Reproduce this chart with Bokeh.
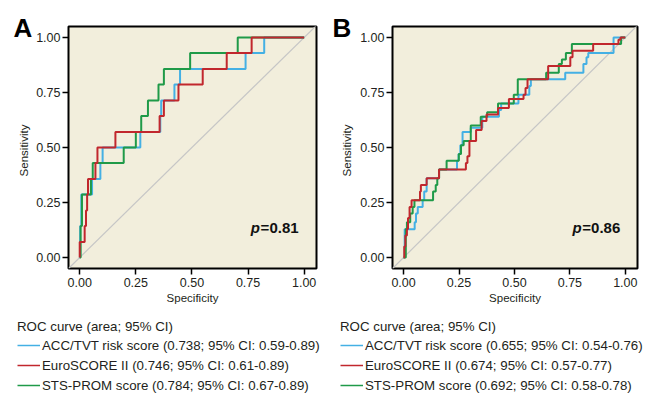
import math
from bokeh.plotting import figure
from bokeh.layouts import row, column
from bokeh.models import Legend, LegendItem, Label, FixedTicker, Range1d
from bokeh.core.properties import value
from bokeh.embed import file_html
from bokeh.resources import INLINE

# ---------------- data ----------------
ticks = [0, 0.25, 0.5, 0.75, 1.0]
tick_labels = ["0.00", "0.25", "0.50", "0.75", "1.00"]

# Panel A (x = breakpoints on the specificity axis, y = sensitivity after the step)
a_acc_x = [0, 0.002, 0.007, 0.055, 0.092, 0.102, 0.270, 0.359, 0.363, 0.422, 0.447, 0.739, 0.822, 1.0]
a_acc_y = [0, 0.143, 0.286, 0.357, 0.429, 0.5, 0.571, 0.643, 0.714, 0.786, 0.857, 0.929, 1.0, 1.0]
a_euro_x = [0, 0.0, 0.022, 0.028, 0.033, 0.037, 0.070, 0.079, 0.159, 0.356, 0.375, 0.440, 0.548, 0.655, 0.766, 1.0]
a_euro_y = [0, 0.071, 0.143, 0.214, 0.286, 0.357, 0.429, 0.5, 0.571, 0.643, 0.714, 0.786, 0.857, 0.929, 1.0, 1.0]
a_sts_x = [0, 0.004, 0.010, 0.050, 0.058, 0.196, 0.250, 0.274, 0.304, 0.351, 0.375, 0.492, 0.704, 1.0]
a_sts_y = [0, 0.143, 0.286, 0.357, 0.429, 0.5, 0.571, 0.643, 0.714, 0.786, 0.857, 0.929, 1.0, 1.0]

# Panel B
b_acc_x = [0, 0.005, 0.050, 0.056, 0.064, 0.086, 0.093, 0.104, 0.160, 0.241, 0.248, 0.256, 0.266, 0.303, 0.355,
           0.430, 0.440, 0.518, 0.567, 0.574, 0.729, 0.811, 0.825, 0.833, 0.947, 1.0]
b_acc_y = [0, 0.128, 0.16, 0.20, 0.23, 0.26, 0.30, 0.36, 0.40, 0.44, 0.47, 0.51, 0.57, 0.59, 0.64,
           0.67, 0.70, 0.74, 0.78, 0.81, 0.84, 0.88, 0.91, 0.93, 1.0, 1.0]
b_euro_x = [0, 0.003, 0.008, 0.015, 0.020, 0.027, 0.036, 0.074, 0.078, 0.104, 0.160, 0.281, 0.288, 0.297, 0.327,
            0.352, 0.374, 0.426, 0.475, 0.541, 0.550, 0.559, 0.652, 0.752, 0.762, 0.855, 0.969, 0.978, 1.0]
b_euro_y = [0, 0.05, 0.10, 0.13, 0.18, 0.23, 0.26, 0.30, 0.33, 0.36, 0.40, 0.43, 0.46, 0.53, 0.58,
            0.62, 0.65, 0.68, 0.72, 0.74, 0.77, 0.81, 0.87, 0.91, 0.94, 0.97, 0.99, 1.0, 1.0]
b_sts_x = [0, 0.010, 0.015, 0.030, 0.041, 0.049, 0.133, 0.145, 0.152, 0.160, 0.194, 0.249, 0.259, 0.271, 0.303,
           0.348, 0.377, 0.426, 0.497, 0.515, 0.643, 0.700, 0.714, 0.732, 0.759, 0.981, 1.0]
b_sts_y = [0, 0.13, 0.16, 0.20, 0.23, 0.26, 0.30, 0.33, 0.36, 0.40, 0.44, 0.47, 0.51, 0.53, 0.60,
           0.64, 0.66, 0.70, 0.74, 0.81, 0.84, 0.88, 0.90, 0.93, 0.97, 1.0, 1.0]

series_names = ["ACC/TVT risk score", "EuroSCORE II", "STS-PROM score"]
a_auc = ["0.738; 95% CI: 0.59-0.89", "0.746; 95% CI: 0.61-0.89", "0.784; 95% CI: 0.67-0.89"]
b_auc = ["0.655; 95% CI: 0.54-0.76", "0.674; 95% CI: 0.57-0.77", "0.692; 95% CI: 0.58-0.78"]
legend_title = "ROC curve (area; 95% CI)"
p_values = ["=0.81", "=0.86"]
panel_names = ["A", "B"]
x_title = "Specificity"
y_title = "Sensitivity"

# ---------------- style ----------------
FONT = "Liberation Sans"
TXT = "#231F20"
BG = "#F2EEDC"
COLORS = ["#44B0E4", "#C1272D", "#1F9A48"]
TOP_H = 313
HEAD_H = 45
LEG_H = 83


def blank(width, height, xr, yr, bl=0, bt=0):
    p = figure(width=width, height=height, output_backend="svg", toolbar_location=None, title=None,
               x_range=xr, y_range=yr, x_axis_location=None, y_axis_location=None,
               min_border_left=bl, min_border_right=0, min_border_top=bt, min_border_bottom=0)
    p.outline_line_color = None
    p.grid.visible = False
    p.background_fill_color = "white"
    p.border_fill_color = "white"
    return p


def side_panel(width, name, name_x, title_x):
    # upper strip: panel letter (y counted downwards from the top of the page)
    top = blank(width, HEAD_H, Range1d(0, width), Range1d(HEAD_H, 0))
    top.text(x=[name_x], y=[27], text=[name], text_font=value(FONT), text_font_size="26px",
             text_font_style="bold", text_color="black", text_baseline="middle", text_align="left")
    # lower strip: y-axis title
    h = TOP_H - HEAD_H
    bot = blank(width, h, Range1d(0, width), Range1d(TOP_H, HEAD_H))
    bot.text(x=[title_x], y=[150], text=[y_title], angle=math.pi / 2, text_font=value(FONT),
             text_font_size="11.5px", text_color=TXT, text_align="center", text_baseline="middle")
    return column(top, bot, spacing=0)


def roc_panel(width, bl, br, curves, ptext):
    p = figure(width=width, height=TOP_H, output_backend="svg", toolbar_location=None, title=None,
               x_range=Range1d(-0.05, 1.055), y_range=Range1d(-0.05, 1.05),
               min_border_left=bl, min_border_right=br, min_border_top=26, min_border_bottom=TOP_H - 268)
    p.background_fill_color = BG
    p.border_fill_color = "white"
    p.outline_line_color = "black"
    p.outline_line_width = 2
    p.grid.visible = False
    for ax in (p.xaxis[0], p.yaxis[0]):
        ax.ticker = FixedTicker(ticks=ticks)
        ax.major_label_overrides = {t: l for t, l in zip(ticks, tick_labels)}
        ax.axis_line_color = None
        ax.major_tick_in = 0
        ax.major_tick_out = 6
        ax.minor_tick_out = 0
        ax.minor_tick_in = 0
        ax.major_tick_line_color = "black"
        ax.major_tick_line_width = 1.5
        ax.major_label_text_font = FONT
        ax.major_label_text_font_size = "12.5px"
        ax.major_label_text_color = TXT
        ax.major_label_standoff = 2
    p.xaxis.axis_label = x_title
    p.xaxis.axis_label_text_font = FONT
    p.xaxis.axis_label_text_font_size = "11.5px"
    p.xaxis.axis_label_text_font_style = "normal"
    p.xaxis.axis_label_text_color = TXT
    p.xaxis.axis_label_standoff = 2
    p.xaxis.major_label_standoff = 3

    p.line([-0.05, 1.06], [-0.05, 1.06], line_color="#C6C6C6", line_width=1.2)
    for i in (0, 2, 1):
        xs, ys = curves[i]
        p.step(xs, ys, mode="after", line_color=COLORS[i], line_width=2)

    p.add_layout(Label(x=0.803, y=0.1, text="p", text_font=FONT, text_font_size="15px",
                       text_font_style="bold italic", text_align="right", text_color="#111111"))
    p.add_layout(Label(x=0.806, y=0.1, text=ptext, text_font=FONT, text_font_size="15px",
                       text_font_style="bold", text_align="left", text_color="#111111"))
    return p


def legend_panel(width, left, aucs):
    lf = blank(width, LEG_H, Range1d(0, 1), Range1d(0, 1), bl=left, bt=6)
    items = []
    for col, nm, auc in zip(COLORS, series_names, aucs):
        # swatch renderer kept outside the visible range: only its legend glyph shows
        r = lf.line(x=[5, 6], y=[5, 6], line_color=col, line_width=1.5)
        items.append(LegendItem(label=f"{nm} ({auc})", renderers=[r]))
    leg = Legend(items=items, location="top_left", title=legend_title,
                 title_text_font=FONT, title_text_font_size="13.3px", title_text_font_style="normal",
                 title_text_color=TXT,
                 label_text_font=FONT, label_text_font_size="13.3px", label_text_color=TXT,
                 glyph_width=23, glyph_height=20, label_height=20, label_standoff=2, spacing=0,
                 padding=0, margin=0, title_standoff=1,
                 background_fill_alpha=0, border_line_alpha=0)
    lf.add_layout(leg, "center")
    return lf


sA = side_panel(33, panel_names[0], 13, 23)
pA = roc_panel(298, 34, 15, [(a_acc_x, a_acc_y), (a_euro_x, a_euro_y), (a_sts_x, a_sts_y)], p_values[0])
sB = side_panel(26, panel_names[1], 1, 15)
pB = roc_panel(288, 30, 8, [(b_acc_x, b_acc_y), (b_euro_x, b_euro_y), (b_sts_x, b_sts_y)], p_values[1])
lA = legend_panel(331, 17, a_auc)
lB = legend_panel(314, 9, b_auc)

layout = column(row(sA, pA, sB, pB, spacing=0), row(lA, lB, spacing=0), spacing=0)
open("out.html", "w").write(file_html(layout, INLINE))
